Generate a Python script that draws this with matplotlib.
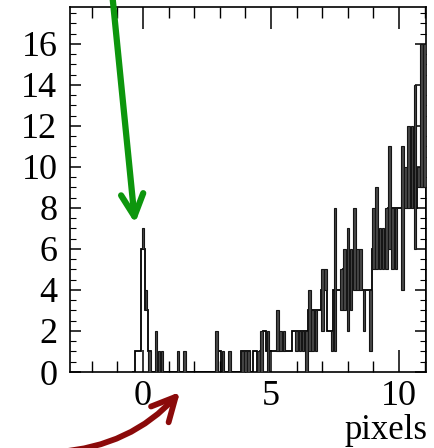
import numpy as np
import matplotlib
matplotlib.use("Agg")
import matplotlib.pyplot as plt

plt.rcParams['font.family'] = ['Liberation Serif', 'DejaVu Serif']

# ---- data ----
bin_width = 0.125
first_bin = -3          # index of first bin (bin centre = index * bin_width)
# white step outline counts, one per bin from index -3 to 88
outline_counts = [
    0, 1, 1, 6, 3, 1, 0, 0, 0, 0,     # -3 .. 6
    0, 0, 0, 0, 0, 0, 0, 0, 0, 0,     # 7 .. 16
    0, 0, 0, 0, 0, 0, 0, 1, 0, 0,     # 17 .. 26
    0, 0, 0, 0, 1, 1, 1, 0, 1, 0,     # 27 .. 36
    1, 2, 1, 1, 1, 1, 1, 1, 1, 1,     # 37 .. 46
    2, 2, 2, 2, 2, 3, 3, 3, 3, 4,     # 47 .. 56
    4, 2, 2, 4, 4, 4, 5, 5, 5, 5,     # 57 .. 66
    5, 4, 4, 4, 4, 6, 6, 6, 6, 6,     # 67 .. 76
    8, 8, 8, 8, 8, 8, 8, 8, 8, 9,     # 77 .. 86
    9, 9,                             # 87 .. 88
]
# dark range bars: bin index, low and high count
bar_bins = [0, 1, 2, 4, 5, 6, 11, 13, 23, 25, 27, 31, 32, 33, 36, 37, 39,
            42, 43, 44, 48, 49, 50, 51, 52, 53, 54, 56, 57, 59, 60, 62, 63,
            64, 65, 66, 67, 68, 69, 71, 72, 73, 74, 75, 76, 77, 78, 79, 81,
            82, 83, 84, 85, 86, 87, 88]
bar_low = [6, 3, 0, 0, 0, 0, 0, 0, 0, 0, 0, 0, 0, 0, 0, 0, 0,
           1, 1, 1, 1, 1, 1, 0, 1, 1, 1, 2, 4, 1, 1, 3, 3,
           2, 3, 4, 4, 4, 2, 1, 5, 5, 5, 5, 5, 6, 5, 5, 4,
           8, 8, 8, 6, 9, 9, 9]
bar_high = [7, 4, 1, 2, 1, 1, 1, 1, 2, 1, 1, 1, 1, 1, 1, 2, 2,
            3, 2, 2, 2, 2, 2, 2, 4, 3, 3, 5, 5, 2, 8, 5, 6,
            7, 6, 8, 6, 6, 4, 4, 8, 9, 7, 7, 8, 11, 8, 8, 11,
            10, 12, 12, 14, 10, 16, 16]

x_major = [0, 5, 10]
x_labels = ['0', '5', '10']
y_major = [0, 2, 4, 6, 8, 10, 12, 14, 16]
y_labels = ['0', '2', '4', '6', '8', '10', '12', '14', '16']
x_label_text = 'pixels'

# ---- figure ----
W, H = 435, 448
fig = plt.figure(figsize=(W / 100, H / 100), dpi=100)
ax = fig.add_axes([70 / W, 1 - 372 / H, (426 - 70) / W, (372 - 7) / H])

n = len(outline_counts)
edges = (np.arange(n + 1) + first_bin - 0.5) * bin_width
ax.stairs(outline_counts, edges, color='black', lw=1.3, baseline=0)

bx = np.array(bar_bins) * bin_width
blo = np.array(bar_low)
bhi = np.array(bar_high)
ax.bar(bx, bhi - blo, bottom=blo, width=0.1, color='#474747',
       edgecolor='#151515', lw=0.8, zorder=3)

ax.set_xlim(-2.85, 11.05)
ax.set_ylim(0, 17.8)
ax.set_xticks(x_major)
ax.set_xticklabels(x_labels)
ax.set_xticks(np.arange(-2, 12, 1), minor=True)
ax.set_yticks(y_major)
ax.set_yticklabels(y_labels)
ax.set_yticks(np.arange(0, 18, 0.5), minor=True)

ax.tick_params(which='both', direction='in', top=True, right=True,
               labelsize=26)
ax.tick_params(axis='x', which='major', length=16, width=1.1, pad=6)
ax.tick_params(axis='x', which='minor', length=8, width=1.0)
ax.tick_params(axis='y', which='major', length=8, width=1.1, pad=9)
ax.tick_params(axis='y', which='minor', length=4, width=0.8)
for s in ax.spines.values():
    s.set_linewidth(1.2)

fig.text(428 / W, 9 / H, x_label_text, ha='right', va='baseline',
         fontsize=25)

# green arrow pointing to the peak
ax.annotate('', xy=(-0.31, 7.25), xycoords='data',
            xytext=(112, H + 8), textcoords='figure pixels',
            arrowprops=dict(arrowstyle='->,head_length=1.6,head_width=0.8',
                            color='#0d960d', lw=4.5, shrinkA=0, shrinkB=0,
                            mutation_scale=10),
            annotation_clip=False)

# dark red curved arrow
ax.annotate('', xy=(180, H - 392), xycoords='figure pixels',
            xytext=(58, -4), textcoords='figure pixels',
            arrowprops=dict(arrowstyle='->,head_length=1.7,head_width=0.85',
                            color='#8b0a0a', lw=4.2, shrinkA=0, shrinkB=0,
                            mutation_scale=10,
                            connectionstyle='arc3,rad=0.2'),
            annotation_clip=False)

fig.savefig('out.png', dpi=100)
